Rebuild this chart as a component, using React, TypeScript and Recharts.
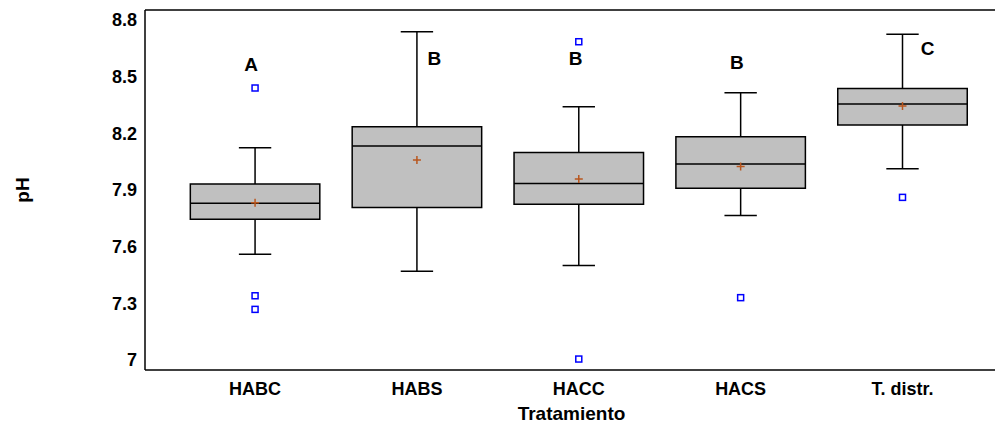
import {
  ComposedChart,
  XAxis,
  YAxis,
  Scatter,
  ReferenceArea,
  ReferenceLine,
  Label,
} from "recharts";

const groups = ["HABC", "HABS", "HACC", "HACS", "T. distr."];
const lowWhisker = [7.56, 7.47, 7.5, 7.765, 8.013];
const q1 = [7.745, 7.808, 7.824, 7.909, 8.244];
const median = [7.83, 8.133, 7.935, 8.038, 8.355];
const q3 = [7.932, 8.235, 8.098, 8.182, 8.438];
const highWhisker = [8.124, 8.738, 8.341, 8.415, 8.724];
const means = [7.833, 8.059, 7.958, 8.024, 8.345];
const outliers = [[8.44, 7.34, 7.268], [], [8.685, 7.005], [7.33], [7.861]];
const letters = ["A", "B", "B", "B", "C"];
const letterX = [0.975, 2.107, 2.98, 3.977, 5.155];
const letterY = [8.562, 8.594, 8.594, 8.574, 8.65];
const yTicks = [7, 7.3, 7.6, 7.9, 8.2, 8.5, 8.8];

const FONT = "'Liberation Sans', Arial, sans-serif";
const BOX_HALF = 0.4;
const CAP_HALF = 0.1;
const Y_DOMAIN: [number, number] = [6.947, 8.853];
const X_DOMAIN: [number, number] = [0.32, 5.59];

const blank = () => <g />;

const MeanMark = (p: any) => (
  <path
    d={`M${p.cx - 4},${p.cy}H${p.cx + 4}M${p.cx},${p.cy - 4}V${p.cy + 4}`}
    stroke="#b8561e"
    strokeWidth={1.5}
    fill="none"
  />
);

const OutlierMark = (p: any) => (
  <rect
    x={p.cx - 3}
    y={p.cy - 3}
    width={6}
    height={6}
    fill="#fff"
    stroke="#0000ff"
    strokeWidth={1.5}
  />
);

const LetterMark = (p: any) => (
  <text
    x={p.cx}
    y={p.cy}
    textAnchor="middle"
    dominantBaseline="central"
    fontFamily={FONT}
    fontWeight="bold"
    fontSize={19}
    fill="#000"
  >
    {p.payload.t}
  </text>
);

export default function App() {
  const meanData = means.map((m, i) => ({ x: i + 1, y: m }));
  const outlierData = outliers.flatMap((vals, i) =>
    vals.map((v) => ({ x: i + 1, y: v }))
  );
  const letterData = letters.map((t, i) => ({ x: letterX[i], y: letterY[i], t }));
  const tickStyle = { fontFamily: FONT, fontWeight: "bold", fill: "#000" };
  const titleStyle = { fontFamily: FONT, fontWeight: "bold", fontSize: 19, fill: "#000" };

  return (
    <div
      style={{
        position: "absolute",
        left: 0,
        top: 0,
        width: 995,
        height: 424,
        overflow: "hidden",
        background: "#fff",
      }}
    >
      <ComposedChart
        width={998}
        height={424}
        margin={{ top: 10, right: 0, bottom: 0, left: 0 }}
      >
        <XAxis
          xAxisId="x"
          type="number"
          dataKey="x"
          domain={X_DOMAIN}
          ticks={[1, 2, 3, 4, 5]}
          tickFormatter={(v: number) => groups[v - 1]}
          allowDataOverflow
          height={54}
          tickSize={0}
          tickMargin={12}
          tickLine={false}
          axisLine={{ stroke: "#000", strokeWidth: 1.5 }}
          tick={{ ...tickStyle, fontSize: 18 }}
        >
          <Label value="Tratamiento" position="insideBottom" offset={4} style={titleStyle} />
        </XAxis>
        <XAxis
          xAxisId="top"
          orientation="top"
          type="number"
          domain={X_DOMAIN}
          mirror
          tick={blank}
          tickLine={false}
          axisLine={{ stroke: "#000", strokeWidth: 1.5 }}
        />
        <YAxis
          yAxisId="l"
          type="number"
          domain={Y_DOMAIN}
          ticks={yTicks}
          allowDataOverflow
          width={145}
          tickSize={0}
          tickMargin={8}
          tickLine={false}
          axisLine={{ stroke: "#000", strokeWidth: 1.5 }}
          tick={{ ...tickStyle, fontSize: 18 }}
        >
          <Label
            value="pH"
            angle={-90}
            position="insideLeft"
            offset={22}
            style={{ ...titleStyle, textAnchor: "middle" }}
          />
        </YAxis>
        <YAxis
          yAxisId="lm"
          orientation="left"
          type="number"
          domain={Y_DOMAIN}
          ticks={yTicks}
          mirror
          tick={blank}
          tickSize={5}
          tickLine={{ stroke: "#000", strokeWidth: 1.5 }}
          axisLine={false}
        />
        <YAxis
          yAxisId="r"
          orientation="right"
          type="number"
          domain={Y_DOMAIN}
          ticks={yTicks}
          mirror
          tick={blank}
          tickSize={8}
          tickLine={{ stroke: "#000", strokeWidth: 1.5 }}
          axisLine={{ stroke: "#000", strokeWidth: 1.5 }}
        />

        {groups.map((g, i) => (
          <ReferenceArea
            key={"box" + g}
            xAxisId="x"
            yAxisId="l"
            x1={i + 1 - BOX_HALF}
            x2={i + 1 + BOX_HALF}
            y1={q1[i]}
            y2={q3[i]}
            fill="#c0c0c0"
            fillOpacity={1}
            stroke="#000"
            strokeWidth={1.5}
          />
        ))}
        {groups.map((g, i) => (
          <ReferenceLine
            key={"med" + g}
            xAxisId="x"
            yAxisId="l"
            segment={[
              { x: i + 1 - BOX_HALF, y: median[i] },
              { x: i + 1 + BOX_HALF, y: median[i] },
            ]}
            stroke="#000"
            strokeWidth={1.5}
          />
        ))}
        {groups.map((g, i) => (
          <ReferenceLine
            key={"wu" + g}
            xAxisId="x"
            yAxisId="l"
            segment={[
              { x: i + 1, y: q3[i] },
              { x: i + 1, y: highWhisker[i] },
            ]}
            stroke="#000"
            strokeWidth={1.5}
          />
        ))}
        {groups.map((g, i) => (
          <ReferenceLine
            key={"wl" + g}
            xAxisId="x"
            yAxisId="l"
            segment={[
              { x: i + 1, y: q1[i] },
              { x: i + 1, y: lowWhisker[i] },
            ]}
            stroke="#000"
            strokeWidth={1.5}
          />
        ))}
        {groups.map((g, i) => (
          <ReferenceLine
            key={"cu" + g}
            xAxisId="x"
            yAxisId="l"
            segment={[
              { x: i + 1 - CAP_HALF, y: highWhisker[i] },
              { x: i + 1 + CAP_HALF, y: highWhisker[i] },
            ]}
            stroke="#000"
            strokeWidth={1.5}
          />
        ))}
        {groups.map((g, i) => (
          <ReferenceLine
            key={"cl" + g}
            xAxisId="x"
            yAxisId="l"
            segment={[
              { x: i + 1 - CAP_HALF, y: lowWhisker[i] },
              { x: i + 1 + CAP_HALF, y: lowWhisker[i] },
            ]}
            stroke="#000"
            strokeWidth={1.5}
          />
        ))}

        <Scatter
          xAxisId="x"
          yAxisId="l"
          data={meanData}
          dataKey="y"
          shape={MeanMark}
          isAnimationActive={false}
        />
        <Scatter
          xAxisId="x"
          yAxisId="l"
          data={outlierData}
          dataKey="y"
          shape={OutlierMark}
          isAnimationActive={false}
        />
        <Scatter
          xAxisId="x"
          yAxisId="l"
          data={letterData}
          dataKey="y"
          shape={LetterMark}
          isAnimationActive={false}
        />
      </ComposedChart>
    </div>
  );
}
